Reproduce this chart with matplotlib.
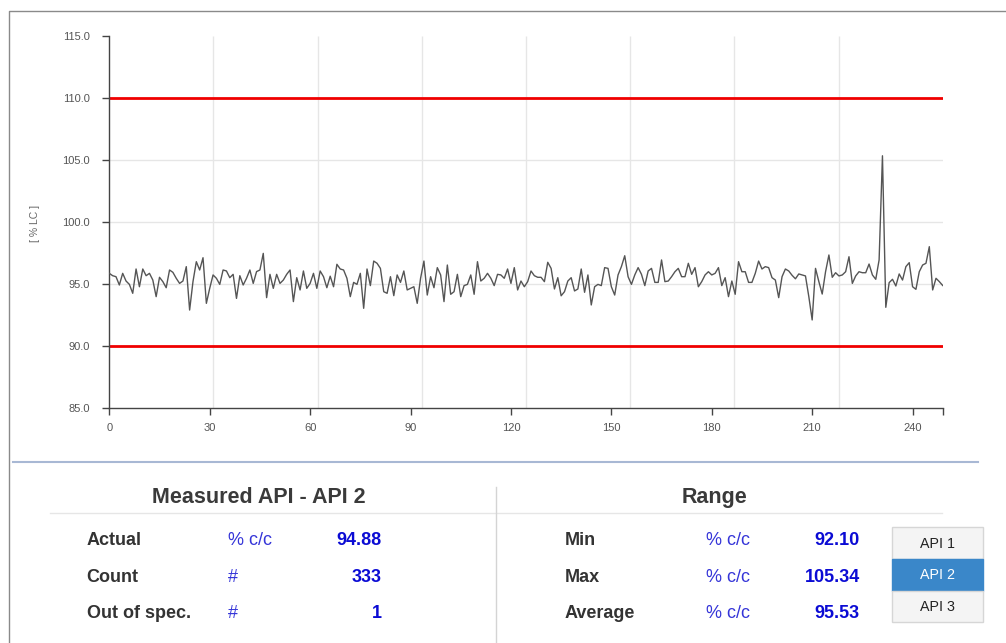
import numpy as np
import matplotlib.pyplot as plt
from matplotlib.patches import Rectangle

plt.rcParams['font.family'] = ['Liberation Sans', 'DejaVu Sans']

api2_values = [
    95.86, 95.67, 95.59, 94.92, 95.86, 95.24, 94.97, 94.25, 96.21, 94.78,
    96.21, 95.67, 95.86, 95.32, 93.98, 95.54, 95.19, 94.70, 96.13, 95.94,
    95.46, 95.05, 95.24, 96.40, 92.90, 95.19, 96.80, 96.13, 97.12, 93.44,
    94.65, 95.73, 95.46, 94.97, 96.13, 96.05, 95.51, 95.78, 93.84, 95.67,
    94.92, 95.46, 96.13, 95.05, 96.00, 96.13, 97.47, 93.90, 95.78, 94.65,
    95.78, 95.05, 95.32, 95.78, 96.13, 93.58, 95.51, 94.52, 96.05, 94.65,
    95.05, 95.86, 94.65, 96.05, 95.59, 94.70, 95.63, 94.78, 96.59, 96.21,
    96.13, 95.46, 93.98, 95.13, 94.97, 95.86, 93.04, 96.21, 94.87, 96.85,
    96.67, 96.26, 94.38, 94.25, 95.59, 94.06, 95.73, 95.13, 96.05, 94.52,
    94.65, 94.78, 93.44, 95.46, 96.85, 94.11, 95.59, 94.70, 96.32, 95.73,
    93.58, 96.53, 94.17, 94.38, 95.78, 93.98, 94.87, 94.97, 95.73, 94.17,
    96.80, 95.24, 95.46, 95.86, 95.46, 94.87, 95.78, 95.73, 95.46, 96.21,
    95.05, 96.32, 94.52, 95.24, 94.78, 95.19, 96.05, 95.67, 95.54, 95.54,
    95.19, 96.75, 96.26, 94.60, 95.51, 94.05, 94.38, 95.24, 95.51, 94.44,
    94.60, 96.21, 94.33, 95.73, 93.31, 94.78, 94.97, 94.87, 96.32, 96.26,
    94.78, 94.11, 95.73, 96.40, 97.28, 95.59, 94.97, 95.73, 96.32, 95.78,
    94.87, 96.05, 96.26, 95.13, 95.13, 96.94, 95.19, 95.24, 95.59, 95.99,
    96.26, 95.59, 95.59, 96.67, 95.78, 96.32, 94.78, 95.19, 95.73, 95.99,
    95.73, 95.86, 96.32, 94.87, 95.51, 93.98, 95.24, 94.17, 96.80, 95.99,
    95.99, 95.13, 95.13, 95.86, 96.85, 96.21, 96.40, 96.32, 95.51, 95.32,
    93.90, 95.59, 96.21, 96.05, 95.70, 95.42, 95.81, 95.73, 95.65, 93.98,
    92.10, 96.26, 95.19, 94.19, 95.99, 97.34, 95.54, 95.91, 95.65, 95.73,
    95.99, 97.20, 95.05, 95.65, 95.99, 95.91, 95.91, 96.61, 95.73, 95.38,
    96.94, 105.34, 93.12, 95.11, 95.38, 94.84, 95.81, 95.32, 96.40, 96.72,
    94.78, 94.57, 95.99, 96.53, 96.67, 98.01, 94.52, 95.46, 95.19, 94.88,
]
sample_index = np.arange(len(api2_values))

spec_low = 90.0
spec_high = 110.0
y_ticks = [85.0, 90.0, 95.0, 100.0, 105.0, 110.0, 115.0]
x_ticks = [0, 30, 60, 90, 120, 150, 180, 210, 240]

left_title = 'Measured API - API 2'
left_labels = ['Actual', 'Count', 'Out of spec.']
left_units = ['% c/c', '#', '#']
left_values = ['94.88', '333', '1']

right_title = 'Range'
right_labels = ['Min', 'Max', 'Average']
right_units = ['% c/c', '% c/c', '% c/c']
right_values = ['92.10', '105.34', '95.53']

api_buttons = ['API 1', 'API 2', 'API 3']
active_api = 'API 2'

W, H = 1006, 643
fig = plt.figure(figsize=(W / 100, H / 100), dpi=100)

# pixel canvas for frame, labels and the stats panel
panel = fig.add_axes([0, 0, 1, 1])
panel.set_xlim(0, W)
panel.set_ylim(H, 0)
panel.axis('off')

# outer frame (top and left visible)
panel.plot([9.5, 9.5, W], [H, 10.5, 10.5], color='#8a8a8a', lw=1)

# chart
ax = fig.add_axes([109.3 / W, 1 - 408 / H, (942.7 - 109.3) / W, (408 - 36) / H])
ax.set_facecolor('none')
ax.set_xlim(sample_index[0], sample_index[-1])
ax.set_ylim(y_ticks[0], y_ticks[-1])

for y in y_ticks[1:-1]:
    ax.axhline(y, color='#e6e6e6', lw=1, zorder=0)
ax.vlines(np.linspace(sample_index[0], sample_index[-1], 9)[1:-1],
          y_ticks[0], y_ticks[-1], color='#e6e6e6', lw=1, zorder=0)

ax.axhline(spec_low, color='#f00000', lw=2, zorder=2)
ax.axhline(spec_high, color='#f00000', lw=2, zorder=2)
ax.plot(sample_index, api2_values, color='#555555', lw=1.0, zorder=3)

for side in ['top', 'right']:
    ax.spines[side].set_visible(False)
for side in ['left', 'bottom']:
    ax.spines[side].set_color('#444444')
    ax.spines[side].set_linewidth(1)

ax.set_xticks(x_ticks + [sample_index[-1]])
ax.set_xticklabels([str(t) for t in x_ticks] + [''])
ax.set_yticks(y_ticks)
ax.set_yticklabels([f'{t:.1f}' for t in y_ticks])
ax.tick_params(axis='both', colors='#444444', labelcolor='#555555',
               labelsize=8, length=5, width=1)
ax.tick_params(axis='y', pad=9)
ax.tick_params(axis='x', pad=6)

panel.text(35, 223, '[ % LC ]', rotation=90, ha='center', va='center',
           fontsize=7.5, color='#666666')

# stats panel
panel.plot([13, 978], [461.7, 461.7], color='#a8b8d4', lw=1.5)
panel.plot([50, 942], [513.3, 513.3], color='#e6e6e6', lw=1)
panel.plot([496.5, 496.5], [487, H], color='#d4d4d4', lw=1)

panel.text(259, 503.3, left_title, ha='center', va='baseline',
           fontsize=15.5, fontweight='bold', color='#3a3a3a')
panel.text(715, 503.3, right_title, ha='center', va='baseline',
           fontsize=15.5, fontweight='bold', color='#3a3a3a')

row_h = 36.67
for i in range(3):
    yb = 545 + i * row_h
    panel.text(86.7, yb, left_labels[i], ha='left', va='baseline',
               fontsize=13, fontweight='bold', color='#333333')
    panel.text(227.7, yb, left_units[i], ha='left', va='baseline',
               fontsize=13, color='#3535d8')
    panel.text(381.7, yb, left_values[i], ha='right', va='baseline',
               fontsize=13, fontweight='bold', color='#0b0bd4')
    panel.text(564.3, yb, right_labels[i], ha='left', va='baseline',
               fontsize=13, fontweight='bold', color='#333333')
    panel.text(706, yb, right_units[i], ha='left', va='baseline',
               fontsize=13, color='#3535d8')
    panel.text(860, yb, right_values[i], ha='right', va='baseline',
               fontsize=13, fontweight='bold', color='#0b0bd4')

btn_x, btn_y, btn_w, btn_h = 892.3, 527.3, 90.4, 31.7
for i, name in enumerate(api_buttons):
    active = name == active_api
    panel.add_patch(Rectangle((btn_x, btn_y + i * btn_h), btn_w, btn_h,
                              facecolor='#3a87c9' if active else '#f4f4f4',
                              edgecolor='#3a87c9' if active else '#d6d6d6',
                              lw=1, zorder=2))
    panel.text(btn_x + btn_w / 2, btn_y + i * btn_h + btn_h / 2 + 4.5, name,
               ha='center', va='baseline', fontsize=10.3,
               color='white' if active else '#222222', zorder=3)

fig.savefig('out.png', dpi=100)
